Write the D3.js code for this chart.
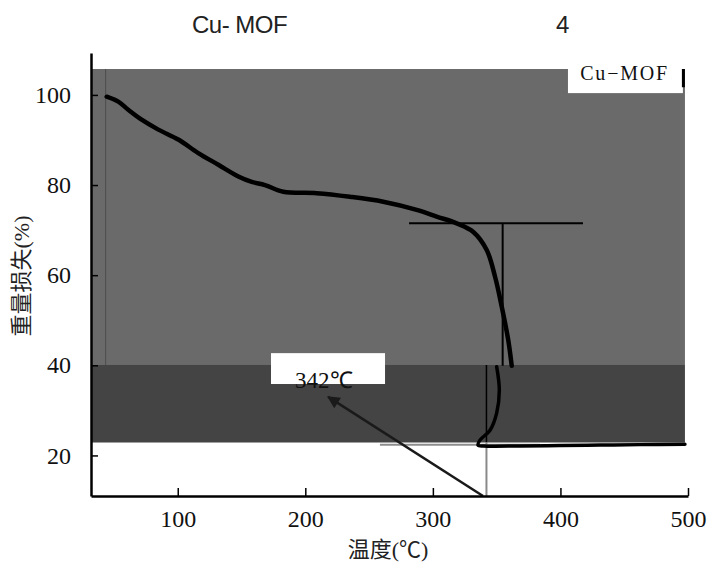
<!DOCTYPE html>
<html>
<head>
<meta charset="utf-8">
<script src="https://cdn.jsdelivr.net/npm/d3@7"></script>
<style>
  body { margin: 0; background: #fff; }
  svg { display: block; }
  .tick text { font-family: "Liberation Serif", "Times New Roman", serif; font-size: 24px; fill: #111; }
  .domain { stroke: #000; stroke-width: 2.5px; }
  .tick line { stroke: #000; stroke-width: 1.5px; }
</style>
</head>
<body>
<div id="wrapper"></div>
<script>
// TGA curve of Cu-MOF (temperature in °C, residual weight in %)
const upperTemp   = [44.3, 53.4, 61.2, 71.7, 84.8, 100.4, 116.1, 131.8, 147.5, 158.0, 168.4, 182.7, 208.9, 235.0, 261.1, 287.3, 303.0, 318.7, 331.7, 342.2, 348.7, 354.0, 359.1, 361.8]
const upperWeight = [99.6, 98.5, 96.7, 94.5, 92.3, 90.1, 87.1, 84.5, 81.9, 80.7, 80.0, 78.5, 78.2, 77.4, 76.3, 74.5, 73.0, 71.5, 69.6, 65.6, 59.7, 53.0, 45.6, 39.9]
const lowerTemp   = [350.0, 352.1, 350.0, 344.8, 336.9, 335.4, 340, 368.3, 399.6, 431.0, 462.4, 497.6]
const lowerWeight = [39.7, 34.5, 29.4, 25.6, 23.4, 22.3, 22.1, 22.1, 22.2, 22.3, 22.4, 22.5]

const xTicks = [100, 200, 300, 400, 500]
const yTicks = [20, 40, 60, 80, 100]

// shaded bands behind the plot: [tStart, tEnd, wTop, wBottom]
const lightBand = [32.8, 497.6, 105.75, 40.07]
const darkBand  = [32.8, 497.6, 40.07, 22.87]

// tangent construction and onset marker
const tangentH    = [[281.3, 71.5], [417.7, 71.5]]
const tangentV    = [[354.7, 71.5], [354.7, 39.9]]
const onsetTemp   = 342
const baseline    = [[258.5, 22.4], [384, 22.4]]
const refLineTemp = 43.5
const arrowPts    = [[339.3, 11], [217.9, 33.0]]
const onsetLabel  = "342℃"
const legendLabel = "Cu−MOF"

function drawChart() {
    let dimensions = {
        width: 707,
        height: 569,
        margin: { top: 53, right: 19, bottom: 73, left: 91 },
    }
    dimensions.boundedWidth = dimensions.width - dimensions.margin.left - dimensions.margin.right
    dimensions.boundedHeight = dimensions.height - dimensions.margin.top - dimensions.margin.bottom

    const wrapper = d3.select("#wrapper")
        .append("svg")
        .attr("width", dimensions.width)
        .attr("height", dimensions.height)

    const bounds = wrapper.append("g")
        .attr("transform", `translate(${dimensions.margin.left}, ${dimensions.margin.top})`)

    const defs = wrapper.append("defs")
    defs.append("marker")
        .attr("id", "arrow")
        .attr("viewBox", "0 0 10 10")
        .attr("refX", 9)
        .attr("refY", 5)
        .attr("markerWidth", 6)
        .attr("markerHeight", 5)
        .attr("markerUnits", "strokeWidth")
        .attr("orient", "auto")
        .append("path")
        .attr("d", "M0,0 L10,5 L0,10 z")
        .attr("fill", "#1a1a1a")

    // scales
    const xScale = d3.scaleLinear()
        .domain([32, 500])
        .range([0, dimensions.boundedWidth])

    const yScale = d3.scaleLinear()
        .domain([11, 109.3])
        .range([dimensions.boundedHeight, 0])

    // background bands
    const bandRect = (b, color) => bounds.append("rect")
        .attr("x", xScale(b[0]))
        .attr("width", xScale(b[1]) - xScale(b[0]))
        .attr("y", yScale(b[2]))
        .attr("height", yScale(b[3]) - yScale(b[2]))
        .attr("fill", color)
    bandRect(lightBand, "#6a6a6a")
    bandRect(darkBand, "#444444")

    bounds.append("line")
        .attr("x1", xScale(refLineTemp)).attr("x2", xScale(refLineTemp))
        .attr("y1", yScale(lightBand[2])).attr("y2", yScale(lightBand[3]))
        .attr("stroke", "#4c4c4c")
        .attr("stroke-width", 1)

    // legend
    const lx = xScale(405.9), rx = xScale(496)
    bounds.append("rect")
        .attr("x", lx).attr("y", yScale(108))
        .attr("width", rx - lx).attr("height", yScale(100.4) - yScale(108))
        .attr("fill", "#fff")
    bounds.append("rect")
        .attr("x", rx - 1).attr("y", yScale(lightBand[2]))
        .attr("width", 3).attr("height", yScale(101.7) - yScale(lightBand[2]))
        .attr("fill", "#000")
    bounds.append("text")
        .attr("x", xScale(415.5))
        .attr("y", yScale(103.2))
        .attr("font-family", "Liberation Serif, serif")
        .attr("font-size", 20)
        .attr("letter-spacing", 1.8)
        .attr("fill", "#111")
        .text(legendLabel)

    // tangent lines
    const line = d3.line()
        .x(d => xScale(d[0]))
        .y(d => yScale(d[1]))

    bounds.append("path")
        .attr("d", line(baseline))
        .attr("fill", "none")
        .attr("stroke", "#8c8c8c")
        .attr("stroke-width", 2)

    bounds.append("path")
        .attr("d", line(tangentH))
        .attr("fill", "none")
        .attr("stroke", "#000")
        .attr("stroke-width", 2)

    bounds.append("path")
        .attr("d", line(tangentV))
        .attr("fill", "none")
        .attr("stroke", "#000")
        .attr("stroke-width", 2)

    bounds.append("path")
        .attr("d", line([[onsetTemp, 40.07], [onsetTemp, 22.9]]))
        .attr("fill", "none")
        .attr("stroke", "#000")
        .attr("stroke-width", 1.5)

    bounds.append("path")
        .attr("d", line([[onsetTemp, 22.9], [onsetTemp, 11]]))
        .attr("fill", "none")
        .attr("stroke", "#8a8a8a")
        .attr("stroke-width", 2)

    // the TGA curve
    const curveGenerator = d3.line()
        .x(d => xScale(d.t))
        .y(d => yScale(d.w))
        .curve(d3.curveCatmullRom)

    const upper = upperTemp.map((t, i) => ({ t: t, w: upperWeight[i] }))
    const lower = lowerTemp.map((t, i) => ({ t: t, w: lowerWeight[i] }))

    bounds.append("path")
        .attr("d", curveGenerator(upper))
        .attr("fill", "none")
        .attr("stroke", "#000")
        .attr("stroke-width", 4.5)
        .attr("stroke-linecap", "round")

    bounds.append("path")
        .attr("d", curveGenerator(lower))
        .attr("fill", "none")
        .attr("stroke", "#000")
        .attr("stroke-width", 3.5)
        .attr("stroke-linecap", "round")

    // onset annotation
    const bx0 = xScale(173.1), bx1 = xScale(262.5)
    bounds.append("rect")
        .attr("x", bx0).attr("y", yScale(42.7))
        .attr("width", bx1 - bx0).attr("height", yScale(35.85) - yScale(42.7))
        .attr("fill", "#fff")
    bounds.append("text")
        .attr("x", xScale(192))
        .attr("y", yScale(34.9))
        .attr("font-family", "Liberation Serif, serif")
        .attr("font-size", 23)
        .attr("fill", "#111")
        .text(onsetLabel)

    bounds.append("path")
        .attr("d", line(arrowPts))
        .attr("fill", "none")
        .attr("stroke", "#1a1a1a")
        .attr("stroke-width", 2.5)
        .attr("marker-end", "url(#arrow)")

    // axes
    const yAxisGenerator = d3.axisLeft()
        .scale(yScale)
        .tickValues(yTicks)
        .tickSizeInner(-7)
        .tickSizeOuter(0)
        .tickPadding(20)

    bounds.append("g")
        .attr("class", "y-axis")
        .call(yAxisGenerator)

    const xAxisGenerator = d3.axisBottom()
        .scale(xScale)
        .tickValues(xTicks)
        .tickSizeInner(-8)
        .tickSizeOuter(0)
        .tickPadding(14)

    bounds.append("g")
        .attr("class", "x-axis")
        .attr("transform", `translate(0, ${dimensions.boundedHeight})`)
        .call(xAxisGenerator)

    bounds.append("text")
        .attr("transform", `translate(${24 - dimensions.margin.left}, ${276 - dimensions.margin.top}) rotate(-90)`)
        .attr("text-anchor", "middle")
        .attr("dominant-baseline", "middle")
        .attr("font-family", "Liberation Serif, Noto Sans CJK SC, serif")
        .attr("font-size", 22)
        .attr("fill", "#222")
        .text("重量损失(%)")

    bounds.append("text")
        .attr("x", 388 - dimensions.margin.left)
        .attr("y", dimensions.boundedHeight + 61)
        .attr("text-anchor", "middle")
        .attr("font-family", "Liberation Serif, Noto Sans CJK SC, serif")
        .attr("font-size", 22)
        .attr("fill", "#222")
        .text("温度(℃)")

    // title line
    wrapper.append("text")
        .attr("x", 192)
        .attr("y", 33)
        .attr("font-family", "Liberation Sans, Arial, sans-serif")
        .attr("font-size", 24)
        .attr("letter-spacing", -0.5)
        .attr("fill", "#222")
        .text("Cu- MOF")

    wrapper.append("text")
        .attr("x", 556)
        .attr("y", 33)
        .attr("font-family", "Liberation Sans, Arial, sans-serif")
        .attr("font-size", 24)
        .attr("fill", "#222")
        .text("4")
}

drawChart()
</script>
</body>
</html>
